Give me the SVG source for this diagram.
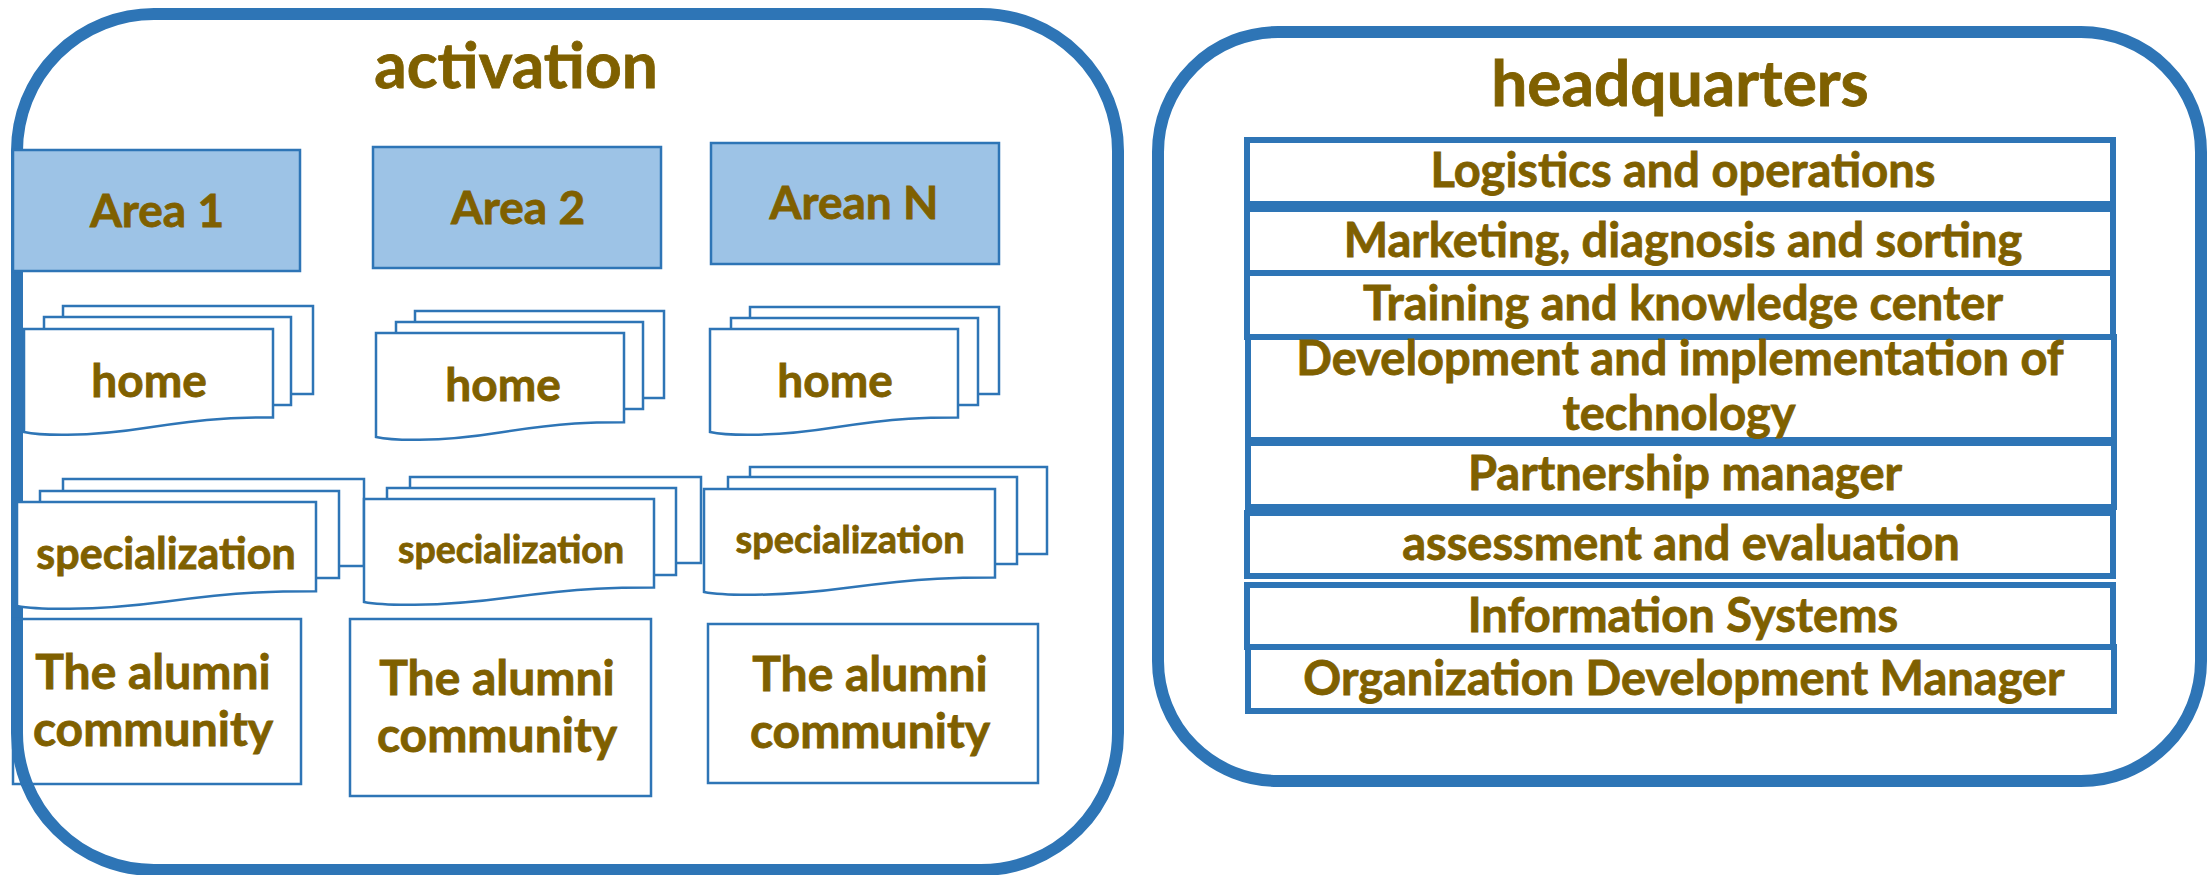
<svg xmlns="http://www.w3.org/2000/svg" width="2211" height="875" viewBox="0 0 2211 875">
  <style>
    .frame { fill: #ffffff; stroke: #2E75B6; stroke-width: 12; }
    .area { fill: #9DC3E6; stroke: #2E75B6; stroke-width: 2.5; }
    .sheet { fill: #ffffff; stroke: #2E75B6; stroke-width: 2.5; }
    .box { fill: none; stroke: #2E75B6; stroke-width: 2.5; }
    .row { fill: #ffffff; stroke: #2E75B6; stroke-width: 6; }
    text { font-family: Lato, "Liberation Sans", sans-serif; font-weight: 700; fill: #7F6000; stroke: #7F6000; stroke-width: 0.8; text-anchor: middle; }
    .title { font-size: 64px; }
    .lbl { font-size: 46px; }
    .alum { font-size: 48px; }
    .rowtxt { font-size: 47px; }
  </style>
  <rect width="2211" height="875" fill="#ffffff"/>

  <!-- activation panel -->
  <g id="activation">
    <rect class="frame" x="17" y="14" width="1101" height="856" rx="137" ry="137"/>
    <text class="title" x="516" y="88">activation</text>
  </g>

  <g id="area-1">
    <rect class="area" x="13" y="150" width="287" height="121"/>
    <text class="lbl" x="157" y="227">Area 1</text>
  </g>
  <g id="area-2">
    <rect class="area" x="373" y="147" width="288" height="121"/>
    <text class="lbl" x="518" y="224">Area 2</text>
  </g>
  <g id="area-n">
    <rect class="area" x="711" y="143" width="288" height="121"/>
    <text class="lbl" x="854" y="219">Arean N</text>
  </g>

  <!-- stacked documents: home -->
  <g id="home-1">
    <rect class="sheet" x="63" y="306" width="250" height="88"/>
    <rect class="sheet" x="44" y="317" width="247" height="88"/>
    <path class="sheet" d="M24,329H273V417.4C243,417.4 212.9,417.4 148.5,427.5C84.2,437.7 38.2,435.2 24,432Z"/>
    <text class="lbl" x="149" y="397">home</text>
  </g>
  <g id="home-2">
    <rect class="sheet" x="415" y="311" width="249" height="87"/>
    <rect class="sheet" x="396" y="322" width="247" height="87"/>
    <path class="sheet" d="M376,333H624V422.2C594.1,422.2 564.1,422.2 500,432.5C435.9,442.8 390.2,440.2 376,437Z"/>
    <text class="lbl" x="503" y="401">home</text>
  </g>
  <g id="home-n">
    <rect class="sheet" x="750" y="307" width="249" height="87"/>
    <rect class="sheet" x="731" y="318" width="247" height="87"/>
    <path class="sheet" d="M710,329H958V417.4C928.1,417.4 898.1,417.4 834,427.5C769.9,437.7 724.2,435.2 710,432Z"/>
    <text class="lbl" x="835" y="397">home</text>
  </g>

  <!-- stacked documents: specialization -->
  <g id="spec-1">
    <rect class="sheet" x="63" y="479" width="301" height="87"/>
    <rect class="sheet" x="40" y="491" width="299" height="87"/>
    <path class="sheet" d="M17,502H316V591.2C279.9,591.2 243.8,591.2 166.5,601.5C89.3,611.8 34.1,609.2 17,606Z"/>
    <text x="166" y="569" style="font-size:43px">specialization</text>
  </g>
  <g id="spec-2">
    <rect class="sheet" x="410" y="477" width="291" height="86"/>
    <rect class="sheet" x="387" y="488" width="289" height="87"/>
    <path class="sheet" d="M364,499H654V587.4C619,587.4 584,587.4 509,597.5C434.1,607.7 380.6,605.2 364,602Z"/>
    <text x="511" y="563" style="font-size:37.5px">specialization</text>
  </g>
  <g id="spec-n">
    <rect class="sheet" x="750" y="467" width="297" height="87"/>
    <rect class="sheet" x="728" y="477" width="289" height="87"/>
    <path class="sheet" d="M704,489H995V577.4C959.9,577.4 924.7,577.4 849.5,587.5C774.3,597.7 720.6,595.2 704,592Z"/>
    <text x="850" y="553" style="font-size:38px">specialization</text>
  </g>

  <!-- alumni boxes -->
  <g id="alumni-1">
    <rect class="box" x="13" y="619" width="288" height="165"/>
    <text class="alum" x="153" y="689">The alumni</text>
    <text class="alum" x="153" y="746">community</text>
  </g>
  <g id="alumni-2">
    <rect class="box" x="350" y="619" width="301" height="177"/>
    <text class="alum" x="497" y="695">The alumni</text>
    <text class="alum" x="497" y="752">community</text>
  </g>
  <g id="alumni-n">
    <rect class="box" x="708" y="624" width="330" height="159"/>
    <text class="alum" x="870" y="691">The alumni</text>
    <text class="alum" x="870" y="748">community</text>
  </g>

  <!-- headquarters panel -->
  <g id="headquarters">
    <rect class="frame" x="1158" y="32" width="1043" height="749" rx="120" ry="120"/>
    <text class="title" x="1680" y="106">headquarters</text>
  </g>

  <g id="hq-logistics">
    <rect class="row" x="1247" y="140" width="866" height="64"/>
    <text class="rowtxt" x="1683" y="187">Logistics and operations</text>
  </g>
  <g id="hq-marketing">
    <rect class="row" x="1247" y="209" width="866" height="64"/>
    <text class="rowtxt" x="1683" y="257">Marketing, diagnosis and sorting</text>
  </g>
  <g id="hq-training">
    <rect class="row" x="1247" y="273" width="866" height="64"/>
    <text class="rowtxt" x="1683" y="320">Training and knowledge center</text>
  </g>
  <g id="hq-technology">
    <rect class="row" x="1248" y="337" width="866" height="103"/>
    <text class="rowtxt" x="1680" y="375">Development and implementation of</text>
    <text class="rowtxt" x="1679" y="430">technology</text>
  </g>
  <g id="hq-partnership">
    <rect class="row" x="1248" y="443" width="866" height="64"/>
    <text class="rowtxt" x="1685" y="490">Partnership manager</text>
  </g>
  <g id="hq-assessment">
    <rect class="row" x="1247" y="513" width="866" height="63"/>
    <text class="rowtxt" x="1681" y="560">assessment and evaluation</text>
  </g>
  <g id="hq-information">
    <rect class="row" x="1247" y="585" width="866" height="62"/>
    <text class="rowtxt" x="1683" y="632">Information Systems</text>
  </g>
  <g id="hq-organization">
    <rect class="row" x="1248" y="647" width="866" height="64"/>
    <text class="rowtxt" x="1684" y="695">Organization Development Manager</text>
  </g>
</svg>
